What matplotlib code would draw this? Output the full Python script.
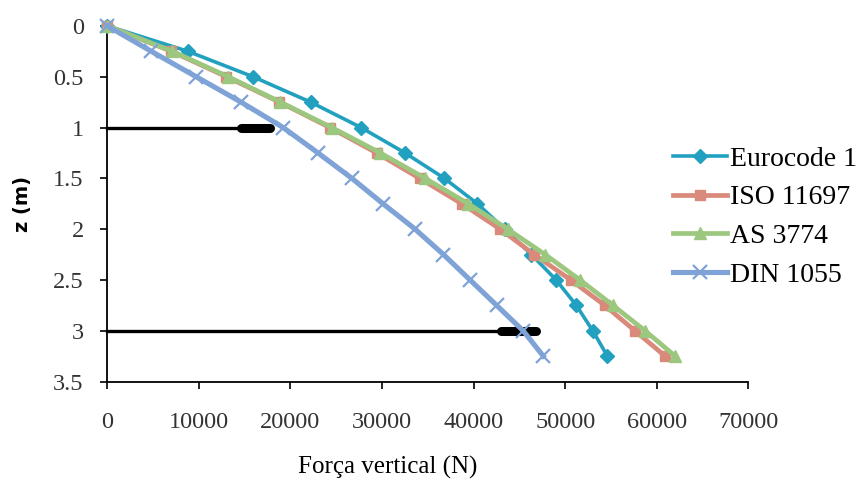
import matplotlib
matplotlib.use("Agg")
import matplotlib.pyplot as plt

# Depth below the surface (m)
depth = [0, 0.25, 0.5, 0.75, 1.0, 1.25, 1.5, 1.75, 2.0, 2.25, 2.5, 2.75, 3.0, 3.25]

# Vertical force (N) by design code
eurocode_1 = [0, 8800, 15900, 22200, 27700, 32500, 36800, 40400, 43400, 46300, 49000, 51200, 53000, 54600]
iso_11697 = [0, 7000, 13000, 18800, 24300, 29400, 34100, 38700, 42900, 46600, 50600, 54300, 57600, 60900]
as_3774 = [0, 7100, 13200, 18900, 24500, 29800, 34700, 39400, 43700, 47800, 51600, 55200, 58700, 62000]
din_1055 = [0, 4800, 9700, 14600, 19200, 23000, 26700, 30100, 33600, 36700, 39600, 42500, 45400, 47600]

series_names = ["Eurocode 1", "ISO 11697", "AS 3774", "DIN 1055"]

# Reference levels marked with black bars
ref_depth = [1.0, 3.0]
ref_bar_start = [14600, 43000]
ref_bar_end = [17800, 46800]

x_ticks = [0, 10000, 20000, 30000, 40000, 50000, 60000, 70000]
y_ticks = [0, 0.5, 1, 1.5, 2, 2.5, 3, 3.5]
y_tick_labels = ["0", "0.5", "1", "1.5", "2", "2.5", "3", "3.5"]

serif = "Liberation Serif"

fig = plt.figure(figsize=(8.61, 4.86), dpi=100)
ax = fig.add_axes([0.1246, 0.215, 0.7447, 0.7317])

# Black reference bars (thin line with a thick end)
for z, s, e in zip(ref_depth, ref_bar_start, ref_bar_end):
    ax.plot([0, e], [z, z], color="black", lw=2.4, zorder=2, clip_on=False)
    ax.plot([s, e], [z, z], color="black", lw=6.5, solid_capstyle="round", zorder=2)

styles = [
    dict(color="#22a0bf", marker="D", ms=7, lw=2.6),
    dict(color="#d98a7a", marker="s", ms=7.5, lw=3.4),
    dict(color="#9cc77f", marker="^", ms=9, lw=3.4),
    dict(color="#7fa3d6", marker="x", ms=10, mew=1.6, lw=3.7),
]
for vals, name, st in zip([eurocode_1, iso_11697, as_3774, din_1055], series_names, styles):
    ax.plot(vals, depth, label=name, zorder=3, clip_on=False, **st)

ax.set_xlim(0, 70000)
ax.set_ylim(3.5, 0)
ax.set_xticks(x_ticks)
ax.set_xticklabels([str(t) for t in x_ticks])
ax.set_yticks(y_ticks)
ax.set_yticklabels(y_tick_labels)

for side in ["top", "right"]:
    ax.spines[side].set_visible(False)
for side in ["left", "bottom"]:
    ax.spines[side].set_linewidth(1.3)
    ax.spines[side].set_color("black")

ax.tick_params(axis="both", direction="out", length=5, width=1.2, colors="black")
ax.tick_params(axis="x", pad=17)
ax.tick_params(axis="y", pad=12)
for lab in ax.get_xticklabels() + ax.get_yticklabels():
    lab.set_fontfamily(serif)
    lab.set_fontsize(17.5)
    lab.set_color("#333333")

ax.set_xlabel("Força vertical (N)", fontfamily=serif, fontsize=18)
ax.xaxis.label.set_va("center")
ax.xaxis.set_label_coords(0.438, -0.243)

ax.set_ylabel("z (m)", fontfamily="DejaVu Sans", fontweight="bold", fontsize=14)
ax.yaxis.label.set_va("center")
ax.yaxis.set_label_coords(-0.133, 0.5)

leg = ax.legend(
    loc="center left",
    bbox_to_anchor=(673 / 861, 1 - 217 / 486),
    bbox_transform=fig.transFigure,
    frameon=False,
    prop={"family": serif, "size": 20},
    handlelength=1.95,
    handletextpad=0.1,
    labelspacing=0.48,
    borderpad=0,
    borderaxespad=0,
)

fig.savefig("out.png", dpi=100, facecolor="white")
